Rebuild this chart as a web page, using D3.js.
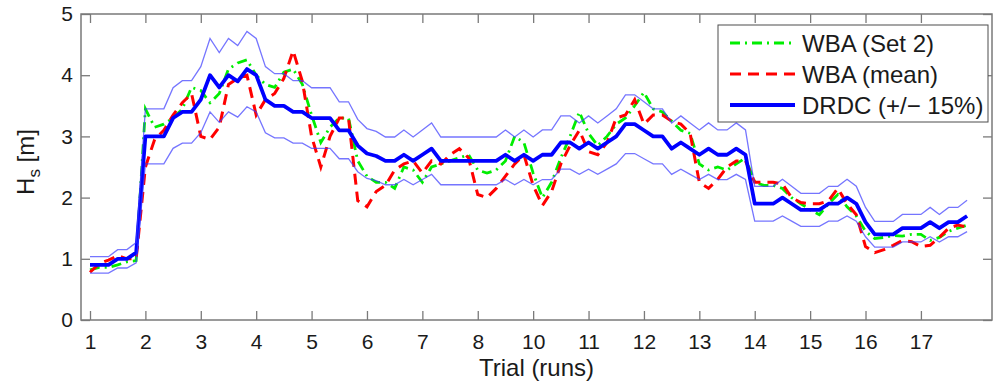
<!DOCTYPE html>
<html>
<head>
<meta charset="utf-8">
<script src="https://cdn.jsdelivr.net/npm/d3@7"></script>
<style>
  body { margin: 0; background: #fff; }
  text { font-family: "Liberation Sans", Arial, sans-serif; fill: #1a1a1a; }
</style>
</head>
<body>
<div id="chart"></div>
<script>
// trial labels along the x axis (there is no trial 9)
const trialLabels = ["1", "2", "3", "4", "5", "6", "7", "8", "10", "11", "12", "13", "14", "15", "16", "17"];
const runsPerTrial = 6;
const yTicks = [0, 1, 2, 3, 4, 5];

// Hs [m] for every run
const wbaSet2 = [
  0.82, 0.86, 0.86, 0.9, 0.95, 0.97,
  3.45, 3.15, 3.2, 3.3, 3.45, 3.8,
  3.75, 3.55, 3.7, 4.1, 4.2, 4.25,
  4.0, 3.85, 3.8, 4.05, 4.1, 3.85,
  3.35, 2.9, 3.15, 3.3, 3.3, 2.6,
  2.35, 2.25, 2.25, 2.15, 2.5, 2.45,
  2.25, 2.5, 2.55, 2.6, 2.65, 2.7,
  2.45, 2.4, 2.45, 2.6, 3.0, 2.9,
  2.4, 2.0, 2.25, 2.65, 3.0, 3.4,
  3.05, 2.85, 3.0, 3.2, 3.3, 3.5,
  3.72, 3.45, 3.4, 3.25, 3.1, 3.05,
  2.55, 2.45, 2.5, 2.45, 2.55, 2.65,
  2.25, 2.2, 2.2, 2.15, 2.0, 1.9,
  1.8, 1.72, 1.9, 2.05, 1.85, 1.7,
  1.45, 1.33, 1.35, 1.38, 1.37, 1.4,
  1.4, 1.3, 1.35, 1.45, 1.5, 1.55
];
const wbaMean = [
  0.78, 0.92, 0.98, 1.05, 1.0, 1.0,
  2.5, 2.95, 3.1, 3.35, 3.55, 3.7,
  3.0, 2.95, 3.15, 3.85, 3.95, 4.0,
  3.35, 3.6, 3.7, 3.95, 4.4, 3.9,
  3.0, 2.5, 3.0, 3.3, 3.3, 1.95,
  1.85, 2.1, 2.2, 2.45, 2.55, 2.6,
  2.4, 2.6, 2.55, 2.7, 2.8, 2.65,
  2.05, 2.0, 2.15, 2.35, 2.55, 2.7,
  2.2, 1.87, 2.1, 2.55, 2.85, 3.1,
  2.75, 2.7, 2.9, 3.3, 3.35, 3.6,
  3.2, 3.35, 3.35, 3.25, 3.2, 3.05,
  2.25, 2.15, 2.3, 2.5, 2.6, 2.6,
  2.25, 2.25, 2.25, 2.22, 2.0, 1.92,
  1.9, 1.9, 1.95, 2.15, 1.9, 1.72,
  1.2, 1.1, 1.15, 1.22, 1.3, 1.28,
  1.2, 1.22, 1.35, 1.5, 1.55, 1.52
];
const drdc = [
  0.9, 0.9, 0.9, 1.0, 1.0, 1.1,
  3.0, 3.0, 3.0, 3.3, 3.4, 3.4,
  3.6, 4.0, 3.8, 4.0, 3.9, 4.1,
  4.0, 3.6, 3.5, 3.5, 3.4, 3.4,
  3.3, 3.3, 3.3, 3.1, 3.1, 2.85,
  2.72, 2.68, 2.6, 2.6, 2.7, 2.6,
  2.7, 2.8, 2.6, 2.6, 2.6, 2.6,
  2.6, 2.6, 2.6, 2.7, 2.6, 2.7,
  2.6, 2.7, 2.7, 2.9, 2.9, 2.8,
  2.9, 2.8, 2.9, 3.0, 3.2, 3.2,
  3.1, 3.0, 3.0, 2.8, 2.9, 2.8,
  2.7, 2.8, 2.7, 2.7, 2.8, 2.7,
  1.9, 1.9, 1.9, 2.0, 1.9, 1.8,
  1.8, 1.8, 1.9, 1.9, 2.0, 1.9,
  1.6, 1.4, 1.4, 1.4, 1.5, 1.5,
  1.5, 1.6, 1.5, 1.6, 1.6, 1.7
];
const bandPct = 0.15; // DRDC +/- 15%

const legendLabels = ["WBA (Set 2)", "WBA (mean)", "DRDC (+/\u2212 15%)"];

// sizes
const width = 994, height = 382;
const margin = { left: 81, right: 2, top: 14, bottom: 62 };
const w = width - margin.left - margin.right;
const h = height - margin.top - margin.bottom;
const tickLen = 9;
const axisColor = "#7a7a7a";

var svg = d3.select("#chart")
  .append("svg")
  .attr("width", width)
  .attr("height", height);

var g = svg.append("g")
  .attr("transform", "translate(" + margin.left + "," + margin.top + ")");

// scales: x is the run index, 6 runs per trial
var x = d3.scaleLinear().domain([-0.975, 97.7]).range([0, w]);
var y = d3.scaleLinear().domain([0, 5]).range([h, 0]);

var tickRuns = trialLabels.map((d, k) => k * runsPerTrial);
var labelOf = (v) => trialLabels[v / runsPerTrial];

// axes (ticks pointing inwards, MATLAB style)
var xAxis = g.append("g")
  .attr("transform", "translate(0," + h + ")")
  .call(d3.axisBottom(x).tickValues(tickRuns).tickFormat(labelOf)
    .tickSizeInner(-tickLen).tickSizeOuter(0).tickPadding(14));
xAxis.selectAll("text").style("font-size", "21px");

var xTop = g.append("g")
  .call(d3.axisTop(x).tickValues(tickRuns).tickFormat("")
    .tickSizeInner(-tickLen).tickSizeOuter(0));

var yAxis = g.append("g")
  .call(d3.axisLeft(y).tickValues(yTicks).tickFormat(d3.format("d"))
    .tickSizeInner(-tickLen).tickSizeOuter(0).tickPadding(8));
yAxis.selectAll("text").style("font-size", "21px");

var yRight = g.append("g")
  .attr("transform", "translate(" + w + ",0)")
  .call(d3.axisRight(y).tickValues(yTicks).tickFormat("")
    .tickSizeInner(-tickLen).tickSizeOuter(0));

g.selectAll(".domain").remove();
g.selectAll(".tick line").attr("stroke", axisColor).attr("stroke-width", 1.3);

// plot box
g.append("rect")
  .attr("x", 0).attr("y", 0)
  .attr("width", w).attr("height", h)
  .attr("fill", "none")
  .attr("stroke", axisColor)
  .attr("stroke-width", 1.5);

// lines
var line = d3.line()
  .x((d, i) => x(i))
  .y((d) => y(d));

g.append("path")
  .datum(wbaSet2)
  .attr("d", line)
  .attr("fill", "none")
  .attr("stroke", "#00ee00")
  .attr("stroke-width", 2.8)
  .attr("stroke-dasharray", "10,5,2,5");

g.append("path")
  .datum(wbaMean)
  .attr("d", line)
  .attr("fill", "none")
  .attr("stroke", "#ff0000")
  .attr("stroke-width", 3)
  .attr("stroke-dasharray", "11,7");

g.append("path")
  .datum(drdc)
  .attr("d", line)
  .attr("fill", "none")
  .attr("stroke", "#0000ff")
  .attr("stroke-width", 3.8)
  .attr("stroke-linejoin", "round");

// +/- 15% envelope
[1 + bandPct, 1 - bandPct].forEach(function (f) {
  g.append("path")
    .datum(drdc.map((v) => v * f))
    .attr("d", line)
    .attr("fill", "none")
    .attr("stroke", "#3a3aff")
    .attr("stroke-opacity", 0.7)
    .attr("stroke-width", 1.3);
});

// axis labels
svg.append("text")
  .attr("x", margin.left + w / 2)
  .attr("y", 376)
  .attr("text-anchor", "middle")
  .style("font-size", "24px")
  .text("Trial (runs)");

var yLab = svg.append("text")
  .attr("transform", "translate(34,162) rotate(-90)")
  .attr("text-anchor", "middle")
  .style("font-size", "24px");
yLab.append("tspan").text("H");
yLab.append("tspan").attr("dy", 6).style("font-size", "17px").text("s");
yLab.append("tspan").attr("dy", -6).text(" [m]");

// legend
var legend = svg.append("g").attr("transform", "translate(718,25)");
legend.append("rect")
  .attr("width", 270).attr("height", 97)
  .attr("fill", "#fff")
  .attr("stroke", "#4d4d4d")
  .attr("stroke-width", 1);

var legendStyle = [
  { color: "#00ee00", width: 2.8, dash: "10,5,2,5" },
  { color: "#ff0000", width: 3, dash: "11,7" },
  { color: "#0000ff", width: 3.8, dash: null }
];

legendLabels.forEach(function (lab, k) {
  var ly = 18 + k * 31;
  legend.append("line")
    .attr("x1", 12).attr("x2", 77)
    .attr("y1", ly).attr("y2", ly)
    .attr("stroke", legendStyle[k].color)
    .attr("stroke-width", legendStyle[k].width)
    .attr("stroke-dasharray", legendStyle[k].dash);
  legend.append("text")
    .attr("x", 84).attr("y", ly + 9)
    .style("font-size", "24px")
    .text(lab);
});
</script>
</body>
</html>
